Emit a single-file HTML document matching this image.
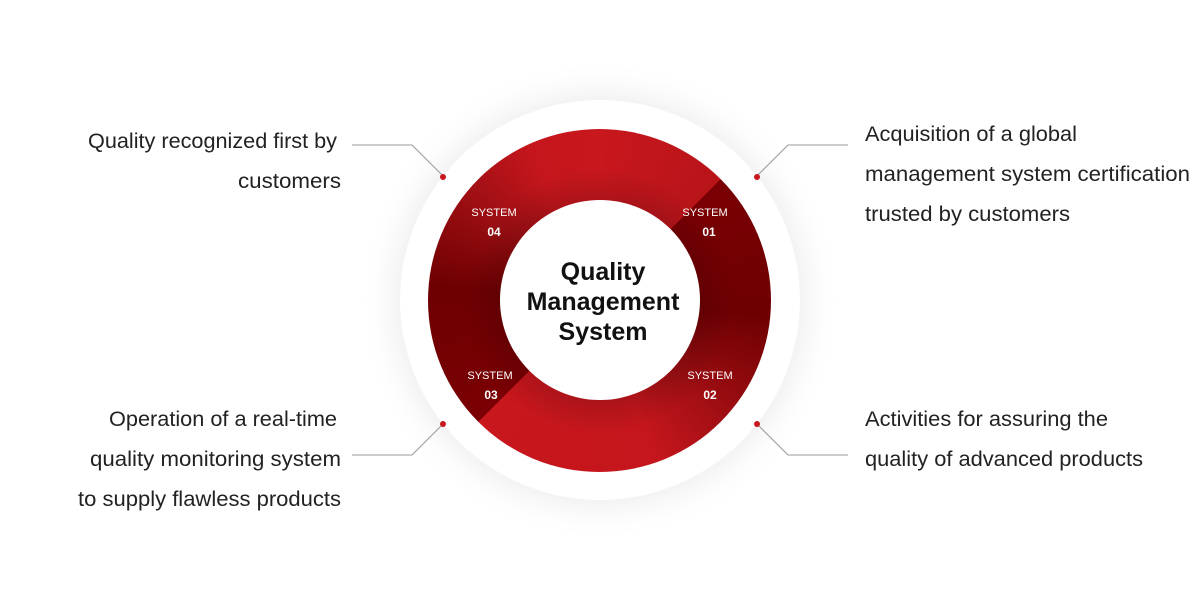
<!DOCTYPE html>
<html><head><meta charset="utf-8"><style>
html,body{margin:0;padding:0;background:#fff;}
svg{display:block;font-family:"Liberation Sans",sans-serif;}
.c{position:absolute;left:428px;top:129px;width:343px;height:343px;border-radius:50%;
background:conic-gradient(from 0deg,#c8171d 0deg,#b8141a 44.9deg,#7a0003 45deg,#6e0002 95deg,#a30f14 135deg,#c4161c 160deg,#c8171d 224.9deg,#7a0003 225deg,#6e0002 275deg,#a00f14 310deg,#c4161c 335deg,#c8171d 360deg);}
.o{position:absolute;left:400px;top:100px;width:400px;height:400px;border-radius:50%;background:#fff;box-shadow:0 0 40px rgba(0,0,0,0.10);}
.i{position:absolute;left:500px;top:200px;width:200px;height:200px;border-radius:50%;background:#fff;}
.sh{position:absolute;left:428px;top:129px;width:343px;height:343px;border-radius:50%;background:radial-gradient(circle,rgba(0,0,0,0.25) 28%,rgba(0,0,0,0) 55%);}
</style></head><body>
<div style="position:relative;width:1200px;height:600px;overflow:hidden;">
<div class="o"></div><div class="c"></div><div class="sh"></div><div class="i"></div>
<svg width="1200" height="600" style="position:absolute;left:0;top:0">
<g stroke="#999" stroke-width="1" fill="none">
<polyline points="352,145 412,145 443,176"/>
<polyline points="848,145 788,145 757,176"/>
<polyline points="352,455 412,455 443,424"/>
<polyline points="848,455 788,455 757,424"/>
</g>
<g fill="#c8171d">
<circle cx="443" cy="177" r="3"/><circle cx="757" cy="177" r="3"/>
<circle cx="443" cy="424" r="3"/><circle cx="757" cy="424" r="3"/>
</g>
<g font-size="21" fill="#222" lengthAdjust="spacingAndGlyphs">
<text x="88" y="148" textLength="249" lengthAdjust="spacingAndGlyphs">Quality recognized first by</text>
<text x="238" y="188" textLength="103" lengthAdjust="spacingAndGlyphs">customers</text>
<text x="109" y="426" textLength="228" lengthAdjust="spacingAndGlyphs">Operation of a real-time</text>
<text x="90" y="466" textLength="251" lengthAdjust="spacingAndGlyphs">quality monitoring system</text>
<text x="78" y="506" textLength="263" lengthAdjust="spacingAndGlyphs">to supply flawless products</text>
<text x="865" y="141" textLength="212" lengthAdjust="spacingAndGlyphs">Acquisition of a global</text>
<text x="865" y="181" textLength="325" lengthAdjust="spacingAndGlyphs">management system certification</text>
<text x="865" y="221" textLength="205" lengthAdjust="spacingAndGlyphs">trusted by customers</text>
<text x="865" y="426" textLength="243" lengthAdjust="spacingAndGlyphs">Activities for assuring the</text>
<text x="865" y="466" textLength="278" lengthAdjust="spacingAndGlyphs">quality of advanced products</text>
</g>
<g text-anchor="middle" font-weight="bold" font-size="25" fill="#111">
<text x="603" y="280">Quality</text>
<text x="603" y="310">Management</text>
<text x="603" y="340">System</text>
</g>
<g text-anchor="middle" fill="#fff">
<g font-size="11"><text x="494" y="216">SYSTEM</text><text x="705" y="216">SYSTEM</text>
<text x="490" y="379">SYSTEM</text><text x="710" y="379">SYSTEM</text></g>
<g font-size="12" font-weight="bold"><text x="494" y="236">04</text><text x="709" y="236">01</text>
<text x="491" y="399">03</text><text x="710" y="399">02</text></g>
</g>
</svg>
</div>
</body></html>
